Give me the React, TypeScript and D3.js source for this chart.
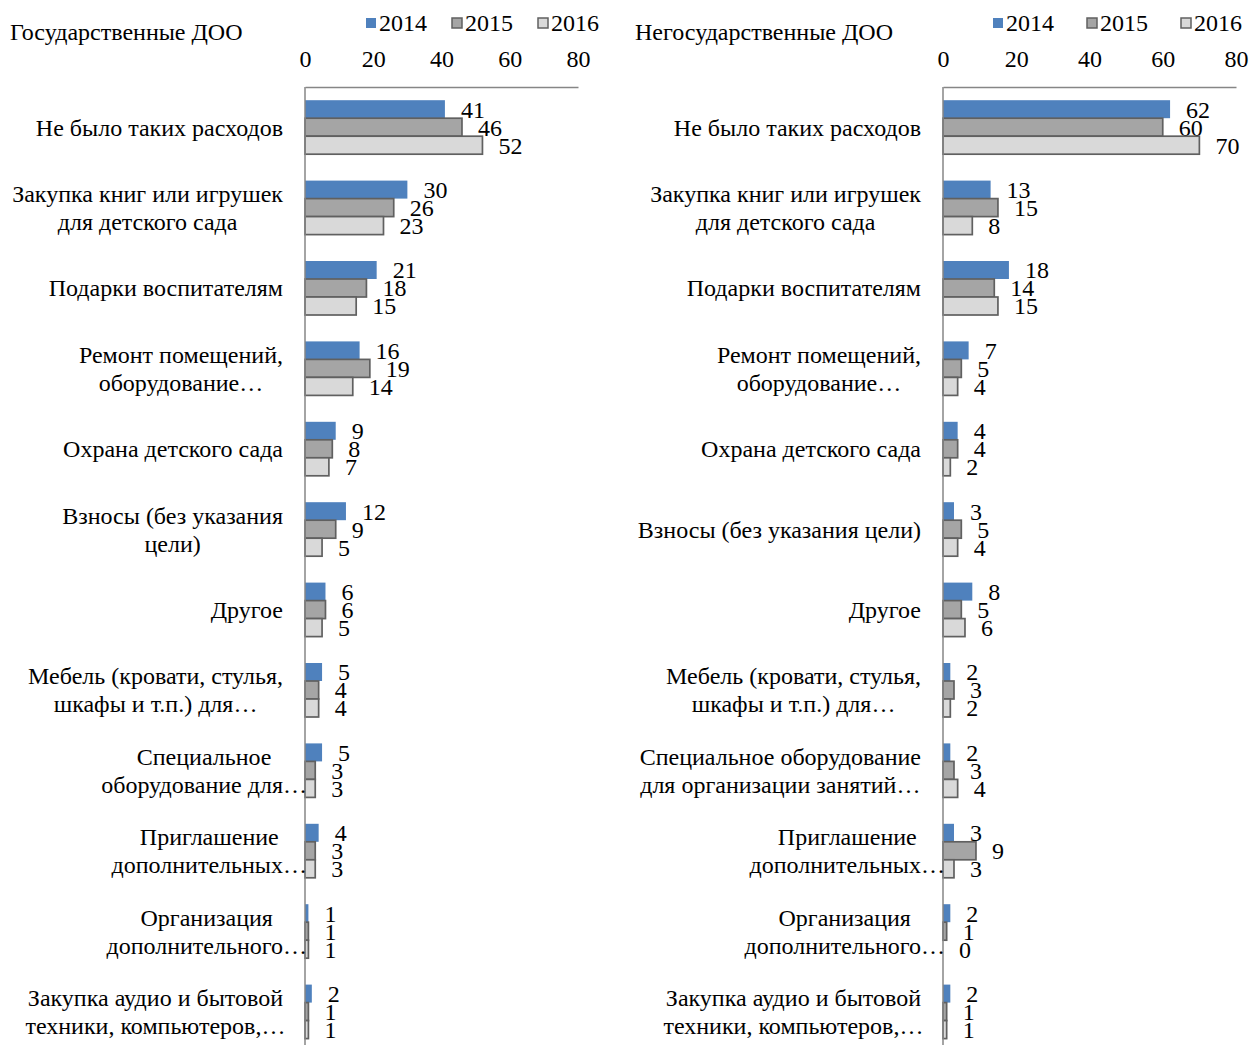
import { useEffect, useRef } from 'react';
import * as d3 from 'd3';

const W = 1251;
const H = 1045;
const FONT = '"Liberation Serif", "Times New Roman", serif';
const FS = 24;

const years = ['2014', '2015', '2016'];
const ticks = [0, 20, 40, 60, 80];

const stateCategories: string[][] = [
  ['Не было таких расходов'],
  ['Закупка книг или игрушек', 'для детского сада'],
  ['Подарки воспитателям'],
  ['Ремонт помещений,', 'оборудование…'],
  ['Охрана детского сада'],
  ['Взносы (без указания', 'цели)'],
  ['Другое'],
  ['Мебель (кровати, стулья,', 'шкафы и т.п.) для…'],
  ['Специальное', 'оборудование для…'],
  ['Приглашение', 'дополнительных…'],
  ['Организация', 'дополнительного…'],
  ['Закупка аудио и бытовой', 'техники, компьютеров,…'],
];
const state2014 = [41, 30, 21, 16, 9, 12, 6, 5, 5, 4, 1, 2];
const state2015 = [46, 26, 18, 19, 8, 9, 6, 4, 3, 3, 1, 1];
const state2016 = [52, 23, 15, 14, 7, 5, 5, 4, 3, 3, 1, 1];

const privateCategories: string[][] = [
  ['Не было таких расходов'],
  ['Закупка книг или игрушек', 'для детского сада'],
  ['Подарки воспитателям'],
  ['Ремонт помещений,', 'оборудование…'],
  ['Охрана детского сада'],
  ['Взносы (без указания цели)'],
  ['Другое'],
  ['Мебель (кровати, стулья,', 'шкафы и т.п.) для…'],
  ['Специальное оборудование', 'для организации занятий…'],
  ['Приглашение', 'дополнительных…'],
  ['Организация', 'дополнительного…'],
  ['Закупка аудио и бытовой', 'техники, компьютеров,…'],
];
const private2014 = [62, 13, 18, 7, 4, 3, 8, 2, 2, 3, 2, 2];
const private2015 = [60, 15, 14, 5, 4, 5, 5, 3, 3, 9, 1, 1];
const private2016 = [70, 8, 15, 4, 2, 4, 6, 2, 4, 3, 0, 1];

const fills: Record<string, string> = { '2014': '#4F81BD', '2015': '#A5A5A5', '2016': '#D9D9D9' };
const strokes: Record<string, string> = { '2014': 'none', '2015': '#606060', '2016': '#606060' };

const panels = [
  {
    title: 'Государственные ДОО', titleX: 10,
    x0: 305, x1: 578, labelRight: 283,
    legendX: 366, legendStep: 86,
    categories: stateCategories, series: [state2014, state2015, state2016],
  },
  {
    title: 'Негосударственные ДОО', titleX: 635,
    x0: 943, x1: 1236, labelRight: 921,
    legendX: 993, legendStep: 94,
    categories: privateCategories, series: [private2014, private2015, private2016],
  },
];

export default function App() {
  const svgRef = useRef<SVGSVGElement>(null);

  useEffect(() => {
    if (!svgRef.current) return;
    const svg = d3.select(svgRef.current);
    svg.selectAll('*').remove();
    svg.append('rect').attr('width', W).attr('height', H).attr('fill', '#fff');

    const axisTop = 87;
    const bandH = 80.4;
    const barH = 18;

    panels.forEach((p) => {
      const g = svg.append('g').attr('font-family', FONT).attr('font-size', FS).attr('fill', '#000');
      const n = p.categories.length;

      const x = d3.scaleLinear().domain([0, 80]).range([p.x0, p.x1]);
      const y = d3.scaleBand<number>()
        .domain(d3.range(n))
        .range([axisTop, axisTop + n * bandH]);
      const inner = d3.scaleBand<string>()
        .domain(years)
        .range([(y.bandwidth() - barH * 3) / 2, (y.bandwidth() + barH * 3) / 2]);

      // title
      g.append('text').attr('x', p.titleX).attr('y', 32).attr('dy', '0.35em').text(p.title);

      // legend
      years.forEach((yr, i) => {
        const lx = p.legendX + i * p.legendStep;
        g.append('rect')
          .attr('x', lx).attr('y', 18).attr('width', 10).attr('height', 10)
          .attr('fill', fills[yr])
          .attr('stroke', strokes[yr]).attr('stroke-width', 1.5);
        g.append('text').attr('x', lx + 13).attr('y', 23).attr('dy', '0.35em').text(yr);
      });

      // top axis
      g.append('g')
        .attr('transform', `translate(0,${axisTop})`)
        .call(d3.axisTop(x).tickValues(ticks).tickSize(0).tickSizeOuter(0).tickPadding(20))
        .call((ax) => ax.select('.domain').attr('stroke', '#868686').attr('stroke-width', 1.5))
        .call((ax) => ax.selectAll('.tick text')
          .attr('font-family', FONT).attr('font-size', FS).attr('fill', '#000'));

      // bars
      years.forEach((yr, si) => {
        const vals = p.series[si];
        g.append('g').selectAll('rect')
          .data(vals)
          .join('rect')
          .attr('x', x(0))
          .attr('y', (_, i) => y(i)! + inner(yr)!)
          .attr('width', (d) => x(d) - x(0))
          .attr('height', inner.bandwidth())
          .attr('fill', fills[yr])
          .attr('stroke', strokes[yr])
          .attr('stroke-width', 1.7);
        g.append('g').selectAll('text')
          .data(vals)
          .join('text')
          .attr('x', (d) => x(d) + 16)
          .attr('y', (_, i) => y(i)! + inner(yr)! + inner.bandwidth() / 2)
          .attr('dy', '0.35em')
          .text((d) => d);
      });

      // vertical axis line
      g.append('line')
        .attr('x1', x(0)).attr('x2', x(0))
        .attr('y1', axisTop).attr('y2', H + 10)
        .attr('stroke', '#868686').attr('stroke-width', 1.5);

      // category labels: centered block, right edge at labelRight (ellipsis overflows)
      const probe = g.append('text').text('…');
      const ellW = (probe.node() as SVGTextElement).getComputedTextLength();
      probe.remove();
      p.categories.forEach((lines, i) => {
        const widths = lines.map((ln) => {
          const t = g.append('text').text(ln);
          const w = (t.node() as SVGTextElement).getComputedTextLength();
          t.remove();
          return ln.endsWith('…') ? w - 2 * ellW : w;
        });
        const cx = p.labelRight - d3.max(widths)! / 2;
        const cy = y(i)! + y.bandwidth() / 2;
        lines.forEach((ln, li) => {
          g.append('text')
            .attr('x', cx)
            .attr('y', cy + (li - (lines.length - 1) / 2) * 28)
            .attr('dy', '0.35em')
            .attr('text-anchor', 'middle')
            .text(ln);
        });
      });
    });
  }, []);

  return (
    <div style={{ position: 'absolute', left: 0, top: 0 }}>
      <svg ref={svgRef} width={W} height={H} style={{ display: 'block' }} />
    </div>
  );
}
